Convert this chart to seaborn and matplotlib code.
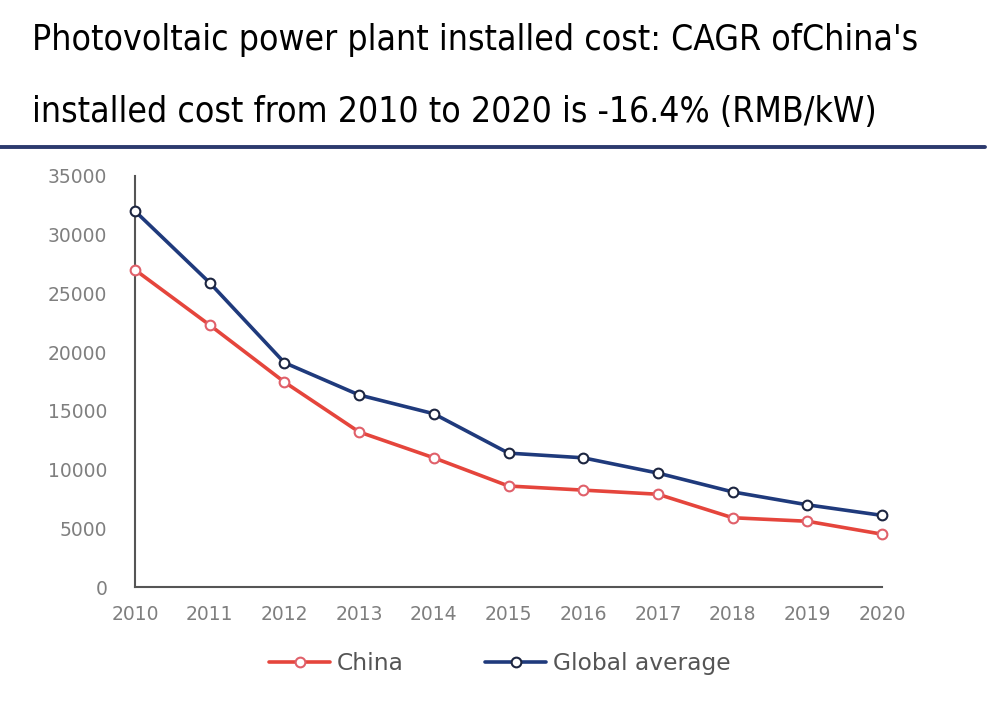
import pandas as pd
import matplotlib.pyplot as plt
import seaborn as sns

# Data (RMB/kW)
years = [2010, 2011, 2012, 2013, 2014, 2015, 2016, 2017, 2018, 2019, 2020]
china = [27000, 22300, 17450, 13200, 11000, 8600, 8250, 7900, 5900, 5600, 4500]
global_avg = [32000, 25900, 19100, 16350, 14750, 11400, 11000, 9700, 8100, 7000, 6100]
yticks = [0, 5000, 10000, 15000, 20000, 25000, 30000, 35000]

df = pd.DataFrame({'year': years, 'China': china, 'Global average': global_avg})

sns.set_style('white')
plt.rcParams['font.family'] = ['DejaVu Sans']

fig = plt.figure(figsize=(10, 7.09), dpi=100)
ax = fig.add_axes([0.135, 0.172, 0.747, 0.58])

red = '#e5453c'
navy = '#1f3a7c'

sns.lineplot(data=df, x='year', y='China', ax=ax, color=red, lw=2.6,
             marker='o', markersize=7, markerfacecolor='white',
             markeredgecolor='#e0606a', markeredgewidth=1.5,
             label='China', clip_on=False, zorder=3)
sns.lineplot(data=df, x='year', y='Global average', ax=ax, color=navy, lw=2.6,
             marker='o', markersize=7, markerfacecolor='white',
             markeredgecolor='#1c2540', markeredgewidth=1.5,
             label='Global average', clip_on=False, zorder=4)

ax.set_xlim(2010, 2020)
ax.set_ylim(0, 35000)
ax.set_xticks(years)
ax.set_yticks(yticks)
ax.set_xlabel('')
ax.set_ylabel('')
ax.tick_params(axis='both', direction='in', length=6, width=1.3, colors='#555555',
               labelcolor='#7f7f7f', labelsize=13.5)
ax.tick_params(axis='y', pad=20)
ax.tick_params(axis='x', pad=13)
sns.despine(ax=ax)
for s in ['left', 'bottom']:
    ax.spines[s].set_color('#555555')
    ax.spines[s].set_linewidth(1.5)

ax.get_legend().remove()
handles, labels = ax.get_legend_handles_labels()
leg = fig.legend(handles, labels, loc='center', bbox_to_anchor=(0.5, 0.064), ncol=2,
                 frameon=False, fontsize=16.8, handlelength=2.6, columnspacing=3.5,
                 handletextpad=0.3)
for t in leg.get_texts():
    t.set_color('#555555')

# Title, two lines, with a rule underneath
fig.text(0.032, 0.9295, "Photovoltaic power plant installed cost: CAGR ofChina's",
         fontsize=25.5, fontstretch='condensed', color='black', va='baseline')
fig.text(0.032, 0.828, "installed cost from 2010 to 2020 is -16.4% (RMB/kW)",
         fontsize=25.5, fontstretch='condensed', color='black', va='baseline')
fig.add_artist(plt.Line2D([0, 0.985], [0.792, 0.792], color='#2c3a6e', lw=2.8))

plt.savefig('out.png', dpi=100)
plt.close()
